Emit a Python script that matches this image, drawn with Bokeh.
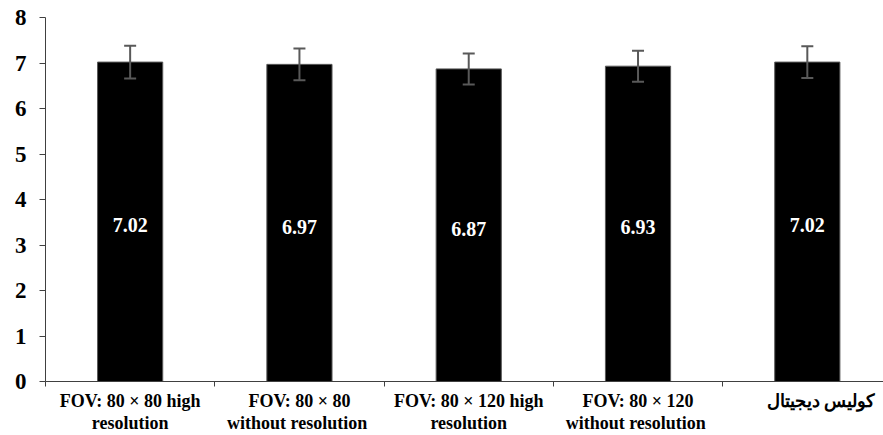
from bokeh.plotting import figure
from bokeh.models import ColumnDataSource, FixedTicker, Whisker, Range1d
from bokeh.embed import file_html
from bokeh.resources import INLINE
from bokeh.core.properties import value

categories = ["FOV: 80 \u00d7 80 high\nresolution",
              "FOV: 80 \u00d7 80\nwithout  resolution",
              "FOV: 80 \u00d7 120 high\nresolution",
              "FOV: 80 \u00d7 120\nwithout  resolution",
              "\u00a0\u00a0\u00a0\u00a0\u00a0\u00a0\u06a9\u0648\u0644\u06cc\u0633 \u062f\u06cc\u062c\u06cc\u062a\u0627\u0644"]
means = [7.02, 6.97, 6.87, 6.93, 7.02]
errors = [0.36, 0.35, 0.34, 0.34, 0.35]
labels = ["7.02", "6.97", "6.87", "6.93", "7.02"]
y_ticks = [0, 1, 2, 3, 4, 5, 6, 7, 8]

FONT = "Times New Roman"

n = len(categories)
xs = [i + 0.5 for i in range(n)]
src = ColumnDataSource(dict(
    x=xs, top=means,
    upper=[m + e for m, e in zip(means, errors)],
    lower=[m - e for m, e in zip(means, errors)],
    ly=[m / 2 - 0.08 for m in means],
    lab=labels,
))

p = figure(width=883, height=435, output_backend="svg", toolbar_location=None,
           x_range=Range1d(0, 4.95), y_range=Range1d(0, 8),
           min_border_left=45, min_border_right=0, min_border_top=17, min_border_bottom=51)
p.outline_line_color = None
p.grid.grid_line_color = None
p.background_fill_color = "white"

p.vbar(x="x", top="top", bottom=0, width=0.385, source=src,
       fill_color="black", line_color="#595959", line_width=1)

w = Whisker(base="x", upper="upper", lower="lower", source=src,
            line_color="#595959", line_width=2, level="overlay")
w.upper_head.size = 12
w.lower_head.size = 12
w.upper_head.line_color = "#595959"
w.lower_head.line_color = "#595959"
w.upper_head.line_width = 2
w.lower_head.line_width = 2
p.add_layout(w)

p.text(x="x", y="ly", text="lab", source=src, text_color="white",
       text_font=value(FONT), text_font_style="bold",
       text_font_size="20px", text_align="center", text_baseline="middle")

# y axis
p.yaxis.ticker = FixedTicker(ticks=y_ticks)
p.yaxis.minor_tick_line_color = None
p.yaxis.major_tick_out = 6
p.yaxis.major_tick_in = 0
p.yaxis.axis_line_color = "#404040"
p.yaxis.major_tick_line_color = "#404040"
p.yaxis.major_label_text_font = FONT
p.yaxis.major_label_text_font_style = "bold"
p.yaxis.major_label_text_font_size = "23px"
p.yaxis.major_label_text_color = "black"
p.yaxis.major_label_standoff = 13

# x axis
p.xaxis.ticker = FixedTicker(ticks=xs, minor_ticks=list(range(n + 1)))
p.xaxis.major_label_overrides = {x: c for x, c in zip(xs, categories)}
p.xaxis.major_tick_out = 0
p.xaxis.major_tick_in = 0
p.xaxis.minor_tick_out = 5
p.xaxis.minor_tick_in = 0
p.xaxis.minor_tick_line_color = "#404040"
p.xaxis.axis_line_color = "#404040"
p.xaxis.major_label_text_font = FONT
p.xaxis.major_label_text_font_style = "bold"
p.xaxis.major_label_text_font_size = "18px"
p.xaxis.major_label_text_color = "black"
p.xaxis.major_label_text_line_height = 1.1
p.xaxis.major_label_standoff = 4

open("out.html", "w").write(file_html(p, INLINE))
